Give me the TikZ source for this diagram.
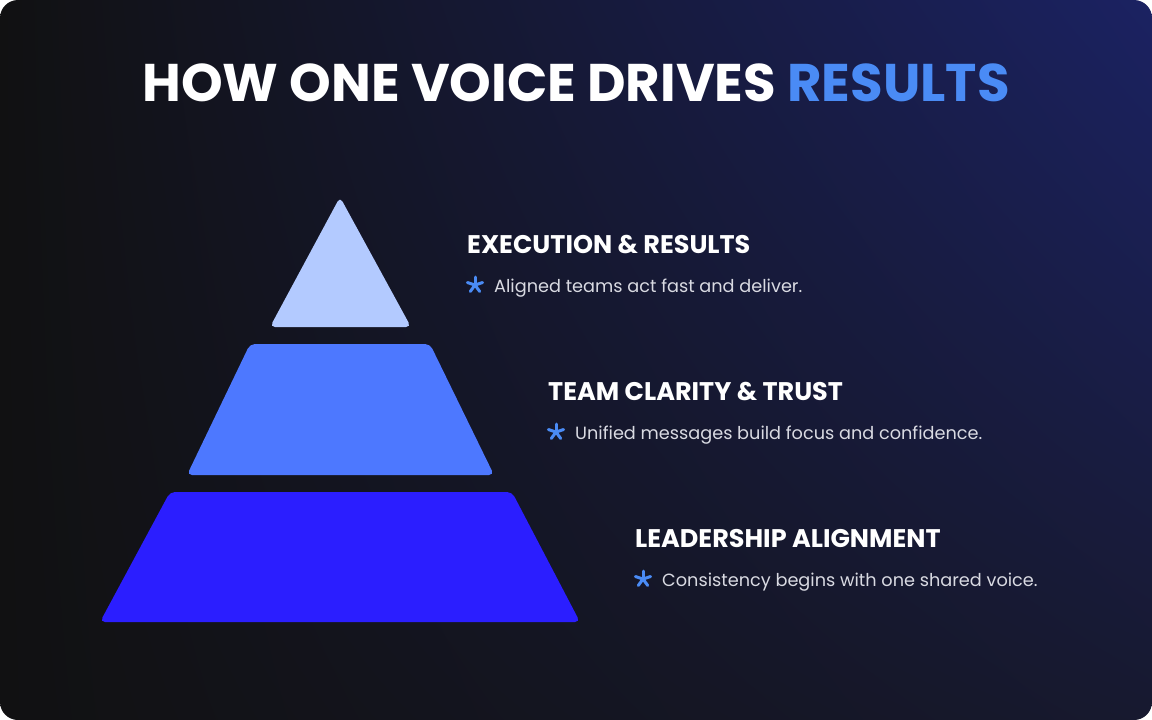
\documentclass[tikz,border=0pt]{standalone}
\usepackage{fontspec}
\setmainfont{Poppins}
\usepackage{tikz}
\usetikzlibrary{shadings}

\definecolor{bgdark}{HTML}{111112}
\definecolor{bgnavy}{HTML}{1B2262}
\definecolor{bgmid}{HTML}{17192F}
\definecolor{accent}{HTML}{4A8BF5}
\definecolor{tierlight}{HTML}{B3CAFF}
\definecolor{tiermid}{HTML}{4D78FF}
\definecolor{tierdeep}{HTML}{2B1EFF}
\definecolor{bodygray}{HTML}{D9DAE2}

\begin{document}
\begin{tikzpicture}[
x=1pt, y=-1pt, % pixel grid of the slide, y pointing down
title/.style={font=\bfseries\fontsize{53}{62}\selectfont, text=white, anchor=base, inner sep=0pt},
heading/.style={font=\bfseries\fontsize{25.5}{30}\selectfont, text=white, anchor=base west, inner sep=0pt},
bodytext/.style={font=\fontsize{17.7}{21}\selectfont, text=bodygray, anchor=base west, inner sep=0pt},
tier/.style={rounded corners=5pt},
star/.pic={\foreach \a in {90,162,234,306,18}
  \draw[accent, line width=3pt, line cap=round] (0,0) -- ++(\a:8pt);}
]

% ================= Background =================
\fill[white] (0,0) rectangle (1152,720);
\useasboundingbox (0,0) rectangle (1152,720);
\shade[rounded corners=18pt, upper left=bgdark, lower left=bgdark,
  upper right=bgnavy, lower right=bgmid] (0,0) rectangle (1152,720);

% ================= Title =================
\node[title] (T) at (576,101) {HOW ONE VOICE DRIVES \textcolor{accent}{RESULTS}};

% ================= Pyramid (top to bottom) =================
\fill[tier, tierlight] (340,197) -- (411,327) -- (270,327) -- cycle;
\fill[tier, tiermid] (250,344) -- (430,344) -- (494,475) -- (187,475) -- cycle;
\fill[tier, tierdeep] (170,492) -- (512,492) -- (580,622) -- (100,622) -- cycle;

% ================= Labels =================
% Execution
\node[heading] (H1) at (467,253) {EXECUTION \& RESULTS};
\pic at (475,285) {star};
\node[bodytext] (B1) at (494,292) {Aligned teams act fast and deliver.};

% Team
\node[heading] (H2) at (548,400) {TEAM CLARITY \& TRUST};
\pic at (556,432) {star};
\node[bodytext] (B2) at (575,439) {Unified messages build focus and confidence.};

% Leadership
\node[heading] (H3) at (635,547) {LEADERSHIP ALIGNMENT};
\pic at (643,579) {star};
\node[bodytext] (B3) at (662,586) {Consistency begins with one shared voice.};

\end{tikzpicture}
\end{document}
